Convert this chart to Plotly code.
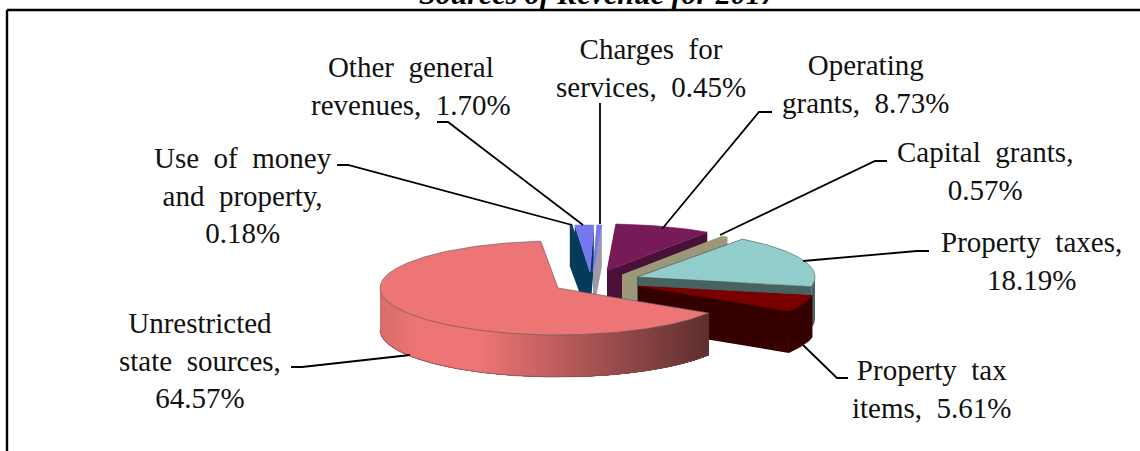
import math
import plotly.graph_objects as go

# ---- data ----
categories = ["Unrestricted state sources", "Use of money and property", "Other general revenues",
              "Charges for services", "Operating grants", "Capital grants",
              "Property taxes", "Property tax items"]
values = [64.57, 0.18, 1.70, 0.45, 8.73, 0.57, 18.19, 5.61]
label_lines = [
    "Unrestricted<br>state\u00a0 sources,<br>64.57%",
    "Use\u00a0 of\u00a0 money<br>and\u00a0 property,<br>0.18%",
    "Other\u00a0 general<br>revenues,\u00a0 1.70%",
    "Charges\u00a0 for<br>services,\u00a0 0.45%",
    "Operating<br>grants,\u00a0 8.73%",
    "Capital\u00a0 grants,<br>0.57%",
    "Property\u00a0 taxes,<br>18.19%",
    "Property\u00a0 tax<br>items,\u00a0 5.61%",
]

# ---- style / layout ----
W, H = 1140, 451
RX, RY, DEPTH = 178, 47, 42
START = 32.0
apex = [(558, 288), (587, 271), (590, 272), (593, 272), (607, 271), (622, 275), (637, 277), (638, 286)]
top_col = ["#EE7575", "#063F5C", "#7676EE", "#7676EE", "#761A58", "#9C9A78", "#90CDCB", "#7A0000"]
side_col = ["#EE7575", "#043B5A", "#043B5A", "#9A9AAA", "#4A1038", "#9A9878", "#476260", "#340000"]
label_pos = [(200, 360), (243, 195), (411, 86), (651, 68), (866, 84), (985, 171), (1031, 261), (932, 389)]
leaders = [
    [(291, 367), (302, 367), (410, 355)],
    [(337, 165), (348, 165), (572, 225)],
    [(437, 122), (448, 122), (583, 225)],
    [(600, 103), (600, 224)],
    [(772, 112), (759, 112), (662, 229)],
    [(887, 161), (875, 161), (720, 235)],
    [(929, 251), (917, 251), (803, 261)],
    [(848, 378), (837, 378), (803, 345)],
]

fig = go.Figure()


def poly(xs, ys, fill, line=None, width=0.0):
    fig.add_trace(go.Scatter(x=xs, y=ys, mode="lines", fill="toself", fillcolor=fill,
                             line=dict(color=line or fill, width=width),
                             hoverinfo="skip", showlegend=False))


def arc(c, a0, a1, n=None):
    n = n or max(2, int(abs(a1 - a0)) + 2)
    ts = [math.radians(a0 + (a1 - a0) * i / (n - 1)) for i in range(n)]
    return [c[0] + RX * math.cos(t) for t in ts], [c[1] + RY * math.sin(t) for t in ts]


def lerp(a, b, f):
    return tuple(round(a[i] + (b[i] - a[i]) * f) for i in range(3))


def pink_shade(x):
    light, dark = (238, 117, 117), (96, 48, 47)
    if x < 420:
        c = lerp((216, 109, 107), light, (x - 380) / 40)
    elif x < 480:
        c = light
    else:
        c = lerp(light, dark, min(1, (x - 480) / 225))
    return "rgb(%d,%d,%d)" % c


# angular extents from the values
bounds, a = [], START
for v in values:
    bounds.append((a, a + v * 3.6))
    a += v * 3.6

# painter's order: back slices first, the big front slice last
for i in [1, 2, 3, 4, 5, 6, 7, 0]:
    c, (a0, a1) = apex[i], bounds[i]
    if i != 0:
        for ang in (a0, a1):
            xr, yr = c[0] + RX * math.cos(math.radians(ang)), c[1] + RY * math.sin(math.radians(ang))
            poly([c[0], xr, xr, c[0], c[0]], [c[1], yr, yr + DEPTH, c[1] + DEPTH, c[1]], side_col[i])
    # outer rim: only where it faces the viewer (sin > 0)
    k0, k1 = a0 % 360, a0 % 360 + (a1 - a0)
    for lo, hi in ((k0, k1), (k0 - 360, k1 - 360)):
        lo2, hi2 = max(lo, 0), min(hi, 180)
        if hi2 > lo2:
            if i == 0:
                # strips overlap the next one so that no seams show; painted from the left end inwards
                steps = int((hi2 - lo2) / 1.5)
                for s in reversed(range(steps)):
                    s0 = lo2 + (hi2 - lo2) * s / steps
                    s1 = lo2 + (hi2 - lo2) * (s + 1) / steps
                    col = pink_shade((c[0] + RX * math.cos(math.radians(s0)) + c[0] + RX * math.cos(math.radians(s1))) / 2)
                    xs, ys = arc(c, lo2, s1, max(2, int(s1 - lo2) + 2))
                    poly(xs + xs[::-1] + [xs[0]], ys + [y + DEPTH for y in ys[::-1]] + [ys[0]], col)
                xs, ys = arc(c, lo2, hi2)
                fig.add_trace(go.Scatter(x=xs, y=[y + DEPTH for y in ys], mode="lines",
                                         line=dict(color="#6E5050", width=0.7),
                                         hoverinfo="skip", showlegend=False))
            else:
                xs, ys = arc(c, lo2, hi2)
                poly(xs + xs[::-1] + [xs[0]], ys + [y + DEPTH for y in ys[::-1]] + [ys[0]], side_col[i])
    # top face
    xs, ys = arc(c, a0, a1)
    poly([c[0]] + xs + [c[0]], [c[1]] + ys + [c[1]], top_col[i], "#555555" if i in (0, 6) else top_col[i], 0.6)

# leader lines
for pts in leaders:
    fig.add_trace(go.Scatter(x=[p[0] for p in pts], y=[p[1] for p in pts], mode="lines",
                             line=dict(color="black", width=1.8), hoverinfo="skip", showlegend=False))

FONT = "Liberation Serif"
for txt, (x, y) in zip(label_lines, label_pos):
    fig.add_annotation(x=x, y=y, text=txt, showarrow=False, xanchor="center", yanchor="middle",
                       align="center", font=dict(family=FONT, size=29, color="#111111"))

fig.add_annotation(x=598, xref="x", y=1, yref="paper", yshift=7,
                   text="<b><i>Sources of Revenue for 2017</i></b>", showarrow=False,
                   xanchor="center", yanchor="middle", font=dict(family=FONT, size=30, color="black"))

# chart frame (top and left edges are the only ones inside the crop)
fig.add_shape(type="line", x0=7, x1=W, y0=10, y1=10, line=dict(color="black", width=2.4))
fig.add_shape(type="line", x0=7, x1=7, y0=10, y1=H, line=dict(color="black", width=2.4))

fig.update_layout(
    width=W, height=H, margin=dict(l=0, r=0, t=0, b=0), paper_bgcolor="white", plot_bgcolor="white",
    showlegend=False,
    xaxis=dict(range=[0, W], visible=False, fixedrange=True),
    yaxis=dict(range=[H, 0], visible=False, fixedrange=True),
)
fig.write_html("out.html", config=dict(displayModeBar=False),
               post_script="document.body.style.margin='0';document.body.style.overflow='hidden';")
